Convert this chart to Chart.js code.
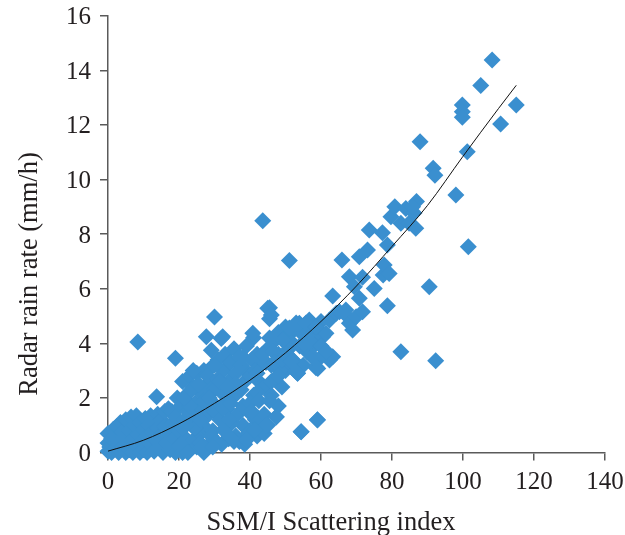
<!DOCTYPE html>
<html>
<head>
<meta charset="utf-8">
<script src="https://cdn.jsdelivr.net/npm/chart.js@4/dist/chart.umd.min.js"></script>
<style>
  body { margin: 0; background: #fff; }
  canvas { display: block; }
</style>
</head>
<body>
<canvas id="scatter_chart" width="625" height="535"></canvas>
<script>
// SSM/I scattering index (x) vs radar rain rate in mm/h (y)
const scatIndex = [
    // 0 - 10
    0, 0, 0, 0.5, 1, 1, 1.5, 2, 2, 2.5, 3, 3, 3.5, 4, 4, 4.5, 5, 5, 5.5, 6, 6, 6.5, 7, 7, 7.5, 8, 8, 8.5, 9, 9, 9.5, 10, 10,
    // 10 - 20
    10.5, 11, 11, 11.5, 12, 12, 12.5, 13, 13, 13.5, 14, 14, 14.5, 15, 15, 15.5, 16, 16, 16.5, 17, 17, 17.5, 18, 18, 18.5, 19, 19, 19.5, 20, 20,
    // 20 - 30
    20.5, 21, 21, 21.5, 22, 22, 22.5, 23, 23, 23.5, 24, 24, 24.5, 25, 25, 25.5, 26, 26, 26.5, 27, 27, 27.5, 28, 28, 28.5, 29, 29, 29.5, 30, 30,
    21, 23, 25, 27, 29, 24, 26, 28,
    // 30 - 45
    30.5, 31, 31, 31.5, 32, 32, 32.5, 33, 33, 33.5, 34, 34, 34.5, 35, 35, 35.5, 36, 36, 36.5, 37, 37, 37.5, 38, 38, 38.5,
    39, 39, 39.5, 40, 40, 40.5, 41, 41, 41.5, 42, 42, 42.5, 43, 43, 44, 44, 45, 45, 32, 34, 36, 38, 40, 42, 44,
    // 20 - 45, filling the dense part
    20.5, 21.5, 22.5, 23.5, 24.5, 25.5, 26.5, 27.5, 28.5, 29.5, 31.5, 32.5, 33.5, 34.5, 35.5,
    36.5, 37.5, 38.5, 39.5, 40.5, 41.5, 42.5, 43.5, 44.5, 22, 26, 30, 34, 38, 42,
    // 45 - 60
    45.5, 45.5, 46, 46, 47, 47, 47.4, 48, 48, 49, 49, 50, 50, 51, 51, 52, 52, 53, 53, 53.4, 54, 54.4, 55, 55, 55.8,
    56, 57, 57, 58, 58.6, 58.6, 59, 59, 60, 60, 46.5, 48.5, 50.5,
    46, 47, 48, 49, 50, 51, 52, 54, 55, 57, 48, 50,
    // 60 and up, outliers
    60.5, 62.4, 59.1, 63.3, 61.4, 62.4, 63.3, 64.3, 65.2, 67, 67, 68, 68.9, 69.9, 71.7, 70.8, 69.4, 68, 71.7, 75,
    77.5, 77.8, 79.2, 78.7, 65.9, 70.8, 73.1, 78.7, 73.6, 77.3, 79.7, 80.8, 82.5, 83.9, 84.8, 86.2, 86.7, 86.9, 85.8, 82.5,
    92.3, 90.5, 101.5, 98, 91.6, 92.1, 87.9, 101.2, 99.8, 99.8, 99.8, 110.6, 115, 105, 108.2, 43.6, 51.1, 45, 46,
    // scattered middle points
    56.7, 49.2, 45.5, 40.8, 32.3, 51.1, 53.9, 56.7, 53, 55.8, 58.6, 52, 53.4, 58.6, 59, 54.4, 47.4, 45.5,
    51.6, 53, 44.6, 39, 34.3, 33, 41.3, 60, 61.5, 57.5, 19, 8.4, 13.7, 27.7, 31.9, 29.1, 30
];
const rainRate = [
    0.05, 0.35, 0.7, 0.2, 0.0, 0.5, 0.85, 0.15, 0.6, 0.95, 0.0, 0.4, 1.1, 0.75, 0.2, 0.55, 0.0, 1.2, 0.35, 0.8, 0.1, 1.3, 0.5, 0.0, 1.0, 0.25, 1.35, 0.65, 0.0, 1.1, 0.4, 0.85, 0.1,
    1.25, 0.0, 0.6, 1.0, 0.3, 1.35, 0.75, 0.05, 1.15, 0.45, 0.9, 1.4, 0.2, 0.65, 1.2, 0.0, 0.95, 1.5, 0.35, 0.7, 1.6, 0.1, 1.05, 1.5, 0.5, 0.0, 1.3, 2.0, 0.8, 0.25,
    1.7, 0.0, 2.6, 1.2, 0.5, 2.1, 1.5, 0.1, 2.8, 1.0, 0.45, 2.4, 1.8, 0.2, 2.9, 1.3, 0.7, 2.2, 1.6, 0.0, 3.0, 0.9, 2.5, 1.35, 0.3, 1.9, 3.1, 0.8, 2.3, 1.5,
    0.9, 1.7, 1.1, 1.9, 0.6, 3.0, 0.35, 2.8,
    0.4, 2.7, 3.4, 1.2, 0.3, 2.2, 3.0, 0.9, 3.6, 1.6, 0.5, 2.6, 3.3, 1.1, 2.0, 3.8, 0.6, 2.9, 1.4, 3.5, 0.4, 2.3, 1.0, 3.1, 2.6,
    0.5, 3.9, 1.5, 2.8, 0.8, 3.4, 2.1, 4.2, 1.2, 0.6, 3.6, 2.6, 1.1, 3.2, 0.7, 2.4, 3.8, 1.0, 1.7, 2.0, 2.5, 1.7, 1.8, 2.2, 1.4,
    0.3, 2.0, 0.0, 2.3, 0.9, 2.5, 0.2, 1.8, 2.0, 0.2, 2.6, 1.6, 2.4, 1.8, 0.4,
    2.2, 3.2, 0.3, 0.7, 1.5, 3.0, 1.9, 3.6, 3.3, 1.0, 1.2, 3.2, 1.2, 3.5, 2.9,
    5.3, 4.9, 3.2, 2.1, 4.1, 2.7, 1.3, 3.6, 1.7, 4.4, 2.4, 3.0, 4.6, 3.8, 4.3, 3.4, 4.5, 4.7, 3.0, 2.9, 3.9, 0.76, 4.3, 3.2, 4.7,
    3.7, 3.6, 4.4, 3.9, 4.6, 3.1, 1.2, 4.2, 3.5, 4.8, 3.7, 3.0, 4.0,
    2.6, 3.3, 2.8, 3.4, 3.6, 3.9, 4.0, 4.5, 4.0, 4.1, 4.4, 4.2,
    4.24, 3.39, 3.08, 3.51, 4.37, 4.85, 5.73, 5.1, 5.16, 5.04, 5.22, 4.73, 4.49, 4.97, 5.16, 5.65, 6.07, 6.44, 6.42, 6.01,
    6.5, 6.87, 6.56, 5.38, 7.05, 7.17, 7.42, 7.6, 8.15, 8.05, 8.64, 9.0, 8.4, 8.94, 8.4, 8.77, 8.21, 9.19, 9.0, 3.69,
    3.36, 6.07, 7.54, 9.43, 10.41, 10.16, 11.38, 11.02, 12.73, 12.48, 12.28, 12.03, 12.73, 13.44, 14.38, 8.49, 7.03, 5.28, 5.04,
    4.06, 4.12, 4.19, 4.37, 4.24, 4.56, 4.73, 4.85, 4.74, 4.74, 4.6, 3.39, 2.9, 3.14, 1.19, 0.76, 1.31, 1.9,
    3.33, 2.96, 1.0, 0.46, 0.58, 0.76, 0.82, 3.9, 3.7, 3.5, 3.45, 4.05, 2.04, 4.24, 4.18, 3.75, 4.96
];

// fitted curve, read at a few points along the black line
const trendX = [0, 10, 20, 30, 40, 50, 60, 70, 80, 90, 100, 110, 115];
const trendY = [0.05, 0.45, 1.05, 1.8, 2.65, 3.65, 4.8, 6.1, 7.55, 9.05, 10.85, 12.6, 13.45];

const xTicks = [0, 20, 40, 60, 80, 100, 120, 140];
const yTicks = [0, 2, 4, 6, 8, 10, 12, 14, 16];

const serif = '"Liberation Serif", "Times New Roman", serif';
const inkColor = '#231f20';
const axisColor = '#5a5a5a';

const points = scatIndex.map((x, i) => ({ x: x, y: rainRate[i] }));
const trend = trendX.map((x, i) => ({ x: x, y: trendY[i] }));

// axis titles sit a bit off the axis centres in the original
const axisTitles = {
    id: 'axisTitles',
    afterDraw(chart) {
        const c = chart.ctx;
        c.save();
        c.fillStyle = inkColor;
        c.font = '26.5px ' + serif;
        c.textAlign = 'center';
        c.textBaseline = 'middle';
        c.fillText('SSM/I Scattering index', 331, 523);
        c.translate(30, 274);
        c.rotate(-Math.PI / 2);
        c.fillText('Radar rain rate (mm/h)', 0, 0);
        c.restore();
    }
};

const axisStyle = {
    grid: { drawOnChartArea: false, drawTicks: true, tickLength: 8, color: axisColor, lineWidth: 1.5 },
    border: { display: true, color: axisColor, width: 1.5 }
};

const ctx = document.getElementById('scatter_chart').getContext('2d');

const chart = new Chart(ctx, {
    type: 'scatter',
    data: {
        datasets: [
            {
                label: 'Fit',
                data: trend,
                showLine: true,
                borderColor: '#111111',
                borderWidth: 1,
                pointRadius: 0,
                cubicInterpolationMode: 'monotone',
                order: 0
            },
            {
                label: 'Rain rate',
                data: points,
                pointStyle: 'rectRot',
                pointRadius: 8.5,
                pointHoverRadius: 8.5,
                pointBackgroundColor: '#3a8fcf',
                backgroundColor: '#3a8fcf',
                pointBorderWidth: 0,
                borderWidth: 0,
                clip: false,
                order: 1
            }
        ]
    },
    options: {
        responsive: false,
        animation: false,
        devicePixelRatio: 1,
        layout: { padding: { top: 15.7, right: 20, left: 0, bottom: 0 } },
        plugins: {
            legend: { display: false },
            tooltip: { enabled: false }
        },
        scales: {
            x: {
                type: 'linear',
                min: xTicks[0],
                max: xTicks[xTicks.length - 1],
                afterFit: function (scale) {
                    scale.height = 82.5;
                    scale.paddingLeft = 0;
                    scale.paddingRight = 0;
                },
                afterBuildTicks: function (scale) { scale.ticks = xTicks.map(v => ({ value: v })); },
                ...axisStyle,
                ticks: {
                    padding: 7,
                    color: inkColor,
                    maxRotation: 0,
                    autoSkip: false,
                    font: { family: serif, size: 25 }
                }
            },
            y: {
                type: 'linear',
                min: yTicks[0],
                max: yTicks[yTicks.length - 1],
                afterFit: function (scale) {
                    scale.width = 108;
                    scale.paddingTop = 0;
                    scale.paddingBottom = 0;
                },
                afterBuildTicks: function (scale) { scale.ticks = yTicks.map(v => ({ value: v })); },
                ...axisStyle,
                ticks: {
                    padding: 9,
                    labelOffset: 2,
                    color: inkColor,
                    autoSkip: false,
                    font: { family: serif, size: 25 }
                }
            }
        }
    },
    plugins: [axisTitles]
});
</script>
</body>
</html>
